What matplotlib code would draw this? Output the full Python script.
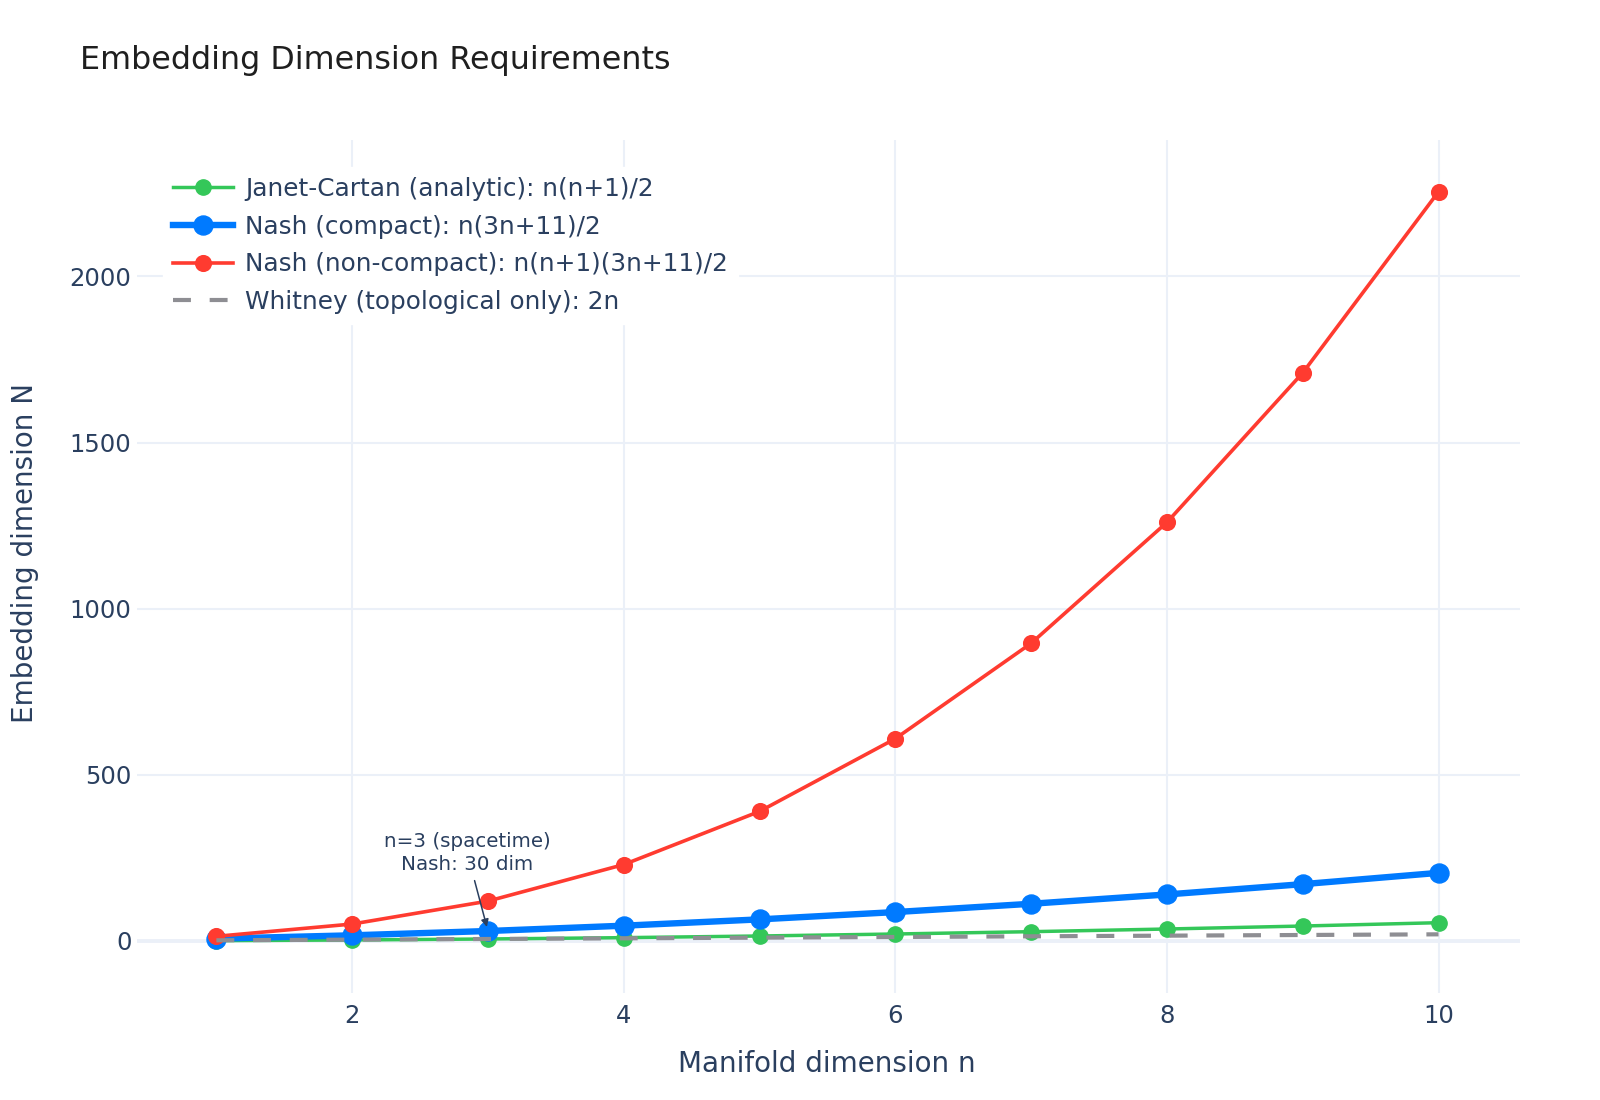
import matplotlib
matplotlib.use("Agg")

import matplotlib.pyplot as plt

# data
n_vals = [1, 2, 3, 4, 5, 6, 7, 8, 9, 10]
janet_cartan = [1, 3, 6, 10, 15, 21, 28, 36, 45, 55]
nash_compact = [7, 17, 30, 46, 65, 87, 112, 140, 171, 205]
nash_noncompact = [14, 51, 120, 230, 390, 609, 896, 1260, 1710, 2255]
whitney = [2, 4, 6, 8, 10, 12, 14, 16, 18, 20]

labels = [
    "Janet-Cartan (analytic): n(n+1)/2",
    "Nash (compact): n(3n+11)/2",
    "Nash (non-compact): n(n+1)(3n+11)/2",
    "Whitney (topological only): 2n",
]

GREEN = "#34c759"
BLUE = "#007aff"
RED = "#ff3b30"
GRAY = "#8e8e93"
TEXT = "#2a3f5f"
GRID = "#ebf0f8"

plt.rcParams["font.family"] = ["DejaVu Sans"]

fig = plt.figure(figsize=(16, 11), dpi=100)
ax = fig.add_axes([0.0856, 0.0973, 0.8644, 0.7755])

ax.plot(n_vals, janet_cartan, color=GREEN, lw=2.5, marker="o", ms=11,
        label=labels[0], zorder=3)
ax.plot(n_vals, nash_compact, color=BLUE, lw=4.6, marker="o", ms=13.7,
        label=labels[1], zorder=4)
ax.plot(n_vals, nash_noncompact, color=RED, lw=2.6, marker="o", ms=11.3,
        label=labels[2], zorder=5)
ax.plot(n_vals, whitney, color=GRAY, lw=3.0, ls=(0, (4.3, 4.5)),
        label=labels[3], zorder=6)

ax.set_xlim(0.415, 10.60)
ax.set_ylim(-156.5, 2411)
ax.set_xticks([2, 4, 6, 8, 10])
ax.set_yticks([0, 500, 1000, 1500, 2000])

for s in ax.spines.values():
    s.set_visible(False)
ax.grid(True, color=GRID, lw=1.5, zorder=0)
ax.set_axisbelow(True)
ax.axhline(0, color=GRID, lw=2.8, zorder=1)
ax.tick_params(length=0, labelsize=17.5, labelcolor=TEXT)
ax.tick_params(axis="y", pad=4)
ax.tick_params(axis="x", pad=8)

ax.set_xlabel("Manifold dimension n", fontsize=20, color=TEXT)
ax.set_ylabel("Embedding dimension N", fontsize=20, color=TEXT)
ax.xaxis.set_label_coords(0.517, 0.0327, transform=fig.transFigure)
ax.yaxis.set_label_coords(0.0156, 0.497, transform=fig.transFigure)
ax.xaxis.label.set_va("center")
ax.yaxis.label.set_va("center")

fig.text(0.05, 0.945, "Embedding Dimension Requirements", fontsize=22.9,
         color="#1f1f1f", va="center", ha="left")

ax.annotate("n=3 (spacetime)\nNash: 30 dim", xy=(3, 30),
            xytext=(2.847, 265), textcoords="data",
            ha="center", va="center", fontsize=14.3, color=TEXT,
            linespacing=1.25,
            arrowprops=dict(arrowstyle="-|>", color=TEXT, lw=1.1,
                            shrinkA=3, shrinkB=3, mutation_scale=11),
            zorder=10)

leg = ax.legend(loc="upper left", bbox_to_anchor=(0.1019, 0.848),
                bbox_transform=fig.transFigure, borderaxespad=0,
                fontsize=17.8, frameon=True, facecolor="white",
                edgecolor="white", framealpha=1.0, labelcolor=TEXT,
                handlelength=2.43, labelspacing=0.55, borderpad=0.4,
                handletextpad=0.49, fancybox=False)
leg.set_zorder(20)

fig.savefig("out.png", dpi=100, facecolor="white")
